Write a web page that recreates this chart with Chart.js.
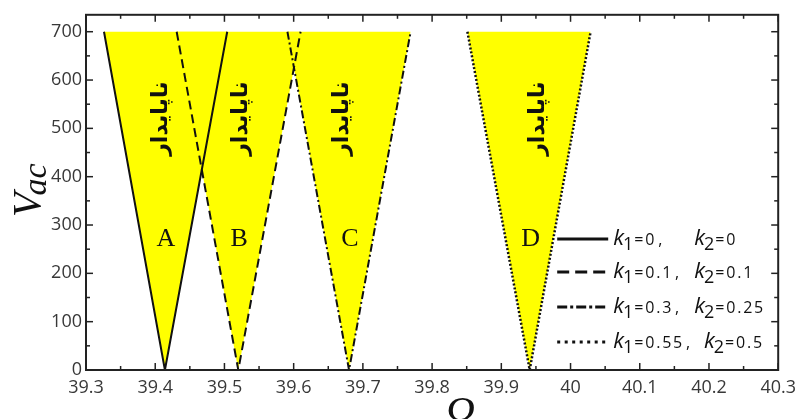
<!DOCTYPE html>
<html><head><meta charset="utf-8">
<script src="https://cdn.jsdelivr.net/npm/chart.js@4.4.0/dist/chart.umd.min.js"></script>
<style>html,body{margin:0;padding:0;background:#fff}#wrap{width:803px;height:419px}</style>
</head><body><div id="wrap"><canvas id="c" width="803" height="419"></canvas></div>
<script>
// ---- data ----
const regionNames = ['A', 'B', 'C', 'D'];
const omegaA = [39.326, 39.414, 39.504];
const omegaB = [39.431, 39.520, 39.610];
const omegaC = [39.591, 39.680, 39.769];
const omegaD = [39.851, 39.941, 40.029];
const vacValues = [700, 0, 700];
const legendK1 = ['0', '0.1', '0.3', '0.55'];
const legendK2 = ['0', '0.1', '0.25', '0.5'];
const xTickValues = [39.3, 39.4, 39.5, 39.6, 39.7, 39.8, 39.9, 40.0, 40.1, 40.2, 40.3];
const xTickLabels = ['39.3', '39.4', '39.5', '39.6', '39.7', '39.8', '39.9', '40', '40.1', '40.2', '40.3'];
const yTickValues = [0, 100, 200, 300, 400, 500, 600, 700];
const yTickLabels = ['0', '100', '200', '300', '400', '500', '600', '700'];
const unstableText = 'ناپایدار';
const unstableOmega = [39.409, 39.524, 39.670, 39.953];
const unstableVac = 520;
const regionLabelVac = 270;

const omegaSets = [omegaA, omegaB, omegaC, omegaD];
const dashes = [[], [9, 5], [8, 3, 2, 3], [2, 2]];
const legendDashes = [[], [12, 6], [10, 3, 3, 3], [3, 4.5]];
const widths = [2, 2, 2, 2.5];

const datasets = omegaSets.map((om, i) => ({
  label: regionNames[i],
  data: om.map((x, j) => ({ x: x, y: vacValues[j] })),
  showLine: true,
  pointRadius: 0,
  borderColor: '#111',
  borderWidth: widths[i],
  borderDash: dashes[i],
  backgroundColor: '#ffff00',
  fill: { value: 700 },
  tension: 0
}));

function drawSpaced(ctx, text, x, y, sp) {
  for (const ch of text) {
    ctx.fillText(ch, x, y);
    x += ctx.measureText(ch).width + sp;
  }
  return x;
}

const decor = {
  id: 'decor',
  afterDraw(chart) {
    const ctx = chart.ctx;
    const a = chart.chartArea;
    const xs = chart.scales.x, ys = chart.scales.y;
    ctx.save();
    // frame
    ctx.strokeStyle = '#222';
    ctx.lineWidth = 2;
    ctx.setLineDash([]);
    ctx.strokeRect(a.left, a.top, a.right - a.left, a.bottom - a.top);
    // inward ticks
    ctx.lineWidth = 1.5;
    const tick = (x1, y1, x2, y2) => { ctx.beginPath(); ctx.moveTo(x1, y1); ctx.lineTo(x2, y2); ctx.stroke(); };
    xTickValues.forEach((v, i) => {
      const px = xs.getPixelForValue(v);
      tick(px, a.bottom, px, a.bottom - 7);
      tick(px, a.top, px, a.top + 7);
      if (i < xTickValues.length - 1) {
        const pm = xs.getPixelForValue((v + xTickValues[i + 1]) / 2);
        tick(pm, a.bottom, pm, a.bottom - 4);
        tick(pm, a.top, pm, a.top + 4);
      }
    });
    yTickValues.forEach((v, i) => {
      const py = ys.getPixelForValue(v);
      tick(a.left, py, a.left + 7, py);
      tick(a.right, py, a.right - 7, py);
      const nxt = i < yTickValues.length - 1 ? yTickValues[i + 1] : v + 100;
      const pm = ys.getPixelForValue((v + nxt) / 2);
      if (pm > a.top + 2) {
        tick(a.left, pm, a.left + 4, pm);
        tick(a.right, pm, a.right - 4, pm);
      }
    });
    // region letters
    ctx.fillStyle = '#111';
    ctx.font = '26px "Liberation Serif"';
    ctx.textAlign = 'center';
    ctx.textBaseline = 'middle';
    omegaSets.forEach((om, i) => {
      ctx.fillText(regionNames[i], xs.getPixelForValue(om[1]) + 1, ys.getPixelForValue(regionLabelVac));
    });
    // unstable (Persian) labels
    ctx.font = 'bold 22px "DejaVu Sans"';
    unstableOmega.forEach(om => {
      ctx.save();
      ctx.translate(xs.getPixelForValue(om), ys.getPixelForValue(unstableVac));
      ctx.rotate(-Math.PI / 2);
      ctx.fillText(unstableText, 0, 0);
      ctx.restore();
    });
    // legend
    const lx0 = a.right - 221, lx1 = a.right - 170;
    const rowBase = [a.bottom - 125, a.bottom - 92, a.bottom - 57, a.bottom - 22];
    ctx.textAlign = 'left';
    ctx.textBaseline = 'alphabetic';
    for (let i = 0; i < 4; i++) {
      const by = rowBase[i];
      ctx.strokeStyle = '#111';
      ctx.lineWidth = 3;
      ctx.setLineDash(legendDashes[i]);
      tick(lx0, by - 6, lx1, by - 6);
      ctx.setLineDash([]);
      let x = lx1 + 5;
      ctx.font = 'italic 22px "Open Sans"';
      ctx.fillText('k', x, by); x += ctx.measureText('k').width - 1;
      ctx.font = '18px "Open Sans"';
      ctx.fillText('1', x, by + 5); x += ctx.measureText('1').width + 1;
      ctx.font = '16px "Open Sans"';
      x = drawSpaced(ctx, '=' + legendK1[i], x, by, 1.8);
      x += 2;
      ctx.fillText(',', x, by); x += 4;
      x = Math.max(lx1 + 86, x + 14);
      ctx.font = 'italic 22px "Open Sans"';
      ctx.fillText('k', x, by); x += ctx.measureText('k').width - 1;
      ctx.font = '18px "Open Sans"';
      ctx.fillText('2', x, by + 5); x += ctx.measureText('2').width + 1;
      ctx.font = '16px "Open Sans"';
      drawSpaced(ctx, '=' + legendK2[i], x, by, 1.8);
    }
    // axis titles
    ctx.save();
    ctx.translate(40, 217);
    ctx.rotate(-Math.PI / 2);
    ctx.font = 'italic 40px "Liberation Serif"';
    ctx.fillText('V', 0, 0);
    const wv = ctx.measureText('V').width;
    ctx.font = 'italic 34px "Liberation Serif"';
    ctx.fillText('ac', wv - 3, 6);
    ctx.restore();
    ctx.font = 'italic 42px "Liberation Serif"';
    ctx.textAlign = 'center';
    ctx.fillText('Ω', (a.left + a.right) / 2 + 28, 426);
    ctx.restore();
  }
};

const tickFont = { family: '"Open Sans"', size: 18 };
new Chart(document.getElementById('c'), {
  type: 'scatter',
  data: { datasets: datasets },
  plugins: [decor],
  options: {
    responsive: false,
    animation: false,
    devicePixelRatio: 1,
    layout: { padding: { top: 10, right: 17, left: 0, bottom: 0 } },
    plugins: {
      legend: { display: false },
      tooltip: { enabled: false },
      filler: { drawTime: 'beforeDatasetsDraw' }
    },
    scales: {
      x: {
        type: 'linear', min: 39.3, max: 40.3,
        grid: { display: false, drawTicks: false },
        border: { display: false },
        afterFit: s => { s.height = 49; },
        ticks: {
          stepSize: 0.1, includeBounds: false, autoSkip: false, maxRotation: 0,
          padding: 7, color: '#383838', font: tickFont,
          callback: v => {
            const i = xTickValues.findIndex(t => Math.abs(t - v) < 1e-6);
            return i >= 0 ? xTickLabels[i] : '';
          }
        }
      },
      y: {
        type: 'linear', min: 0, max: 735,
        grid: { display: false, drawTicks: false },
        border: { display: false },
        afterFit: s => { s.width = 86; },
        ticks: {
          stepSize: 100, includeBounds: false, autoSkip: false,
          padding: 4, color: '#383838', font: tickFont,
          callback: v => {
            const i = yTickValues.indexOf(v);
            return i >= 0 ? yTickLabels[i] : '';
          }
        }
      }
    }
  }
});
</script>
</body></html>
